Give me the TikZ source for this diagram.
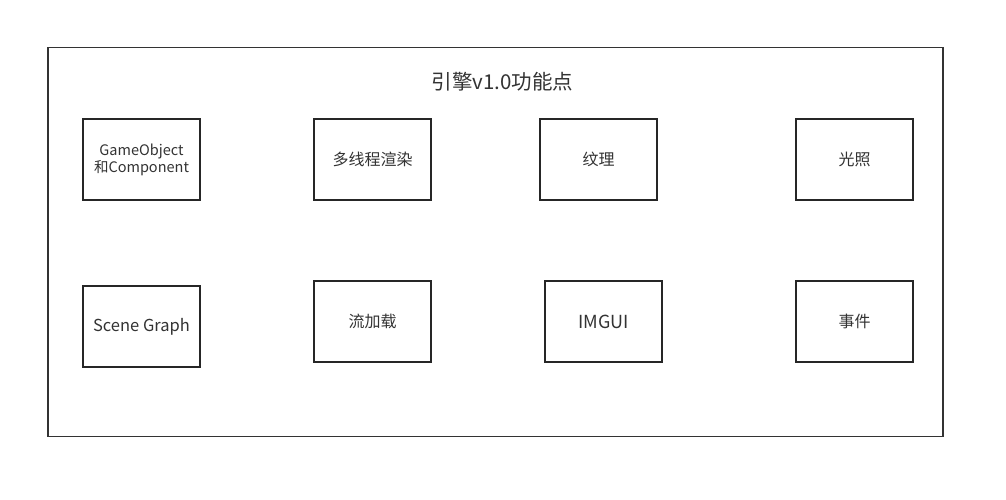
\documentclass[tikz,border=0pt]{standalone}
\usepackage{fontspec}
\setmainfont{Noto Sans CJK SC}
\begin{document}
\begin{tikzpicture}[x=1pt,y=-1pt,
  frame/.style={draw=black!80, line width=1.7pt},
  fbox/.style={draw=black!85, line width=1.7pt, minimum width=117pt, minimum height=81pt, inner sep=0pt, text=black!80, font=\fontsize{16}{19}\selectfont, align=center},
  small/.style={font=\fontsize{14.5}{17}\selectfont},
  ttl/.style={text=black!80, font=\fontsize{20.5}{24}\selectfont, inner sep=0pt}]
\useasboundingbox[fill=white] (0,0) rectangle (1006,499);
\draw[frame] (48,47.5) rectangle (943,436.5);
\node[ttl] (title) at (502.5,82) {引擎v1.0功能点};
\node[fbox,small] (go)  at (141.5,159.5) {GameObject\\和Component};
\node[fbox] (mt)  at (372.5,159.5) {多线程渲染};
\node[fbox] (tex) at (598.5,159.5) {纹理};
\node[fbox] (lt)  at (854.5,159.5) {光照};
\node[fbox,font=\fontsize{16.5}{19}\selectfont] (sg)  at (141.5,326.5) {Scene Graph};
\node[fbox] (st)  at (372.5,321.5) {流加载};
\node[fbox,font=\fontsize{18}{20}\selectfont] (im)  at (603.5,321.5) {IMGUI};
\node[fbox] (ev)  at (854.5,321.5) {事件};
\end{tikzpicture}
\end{document}
